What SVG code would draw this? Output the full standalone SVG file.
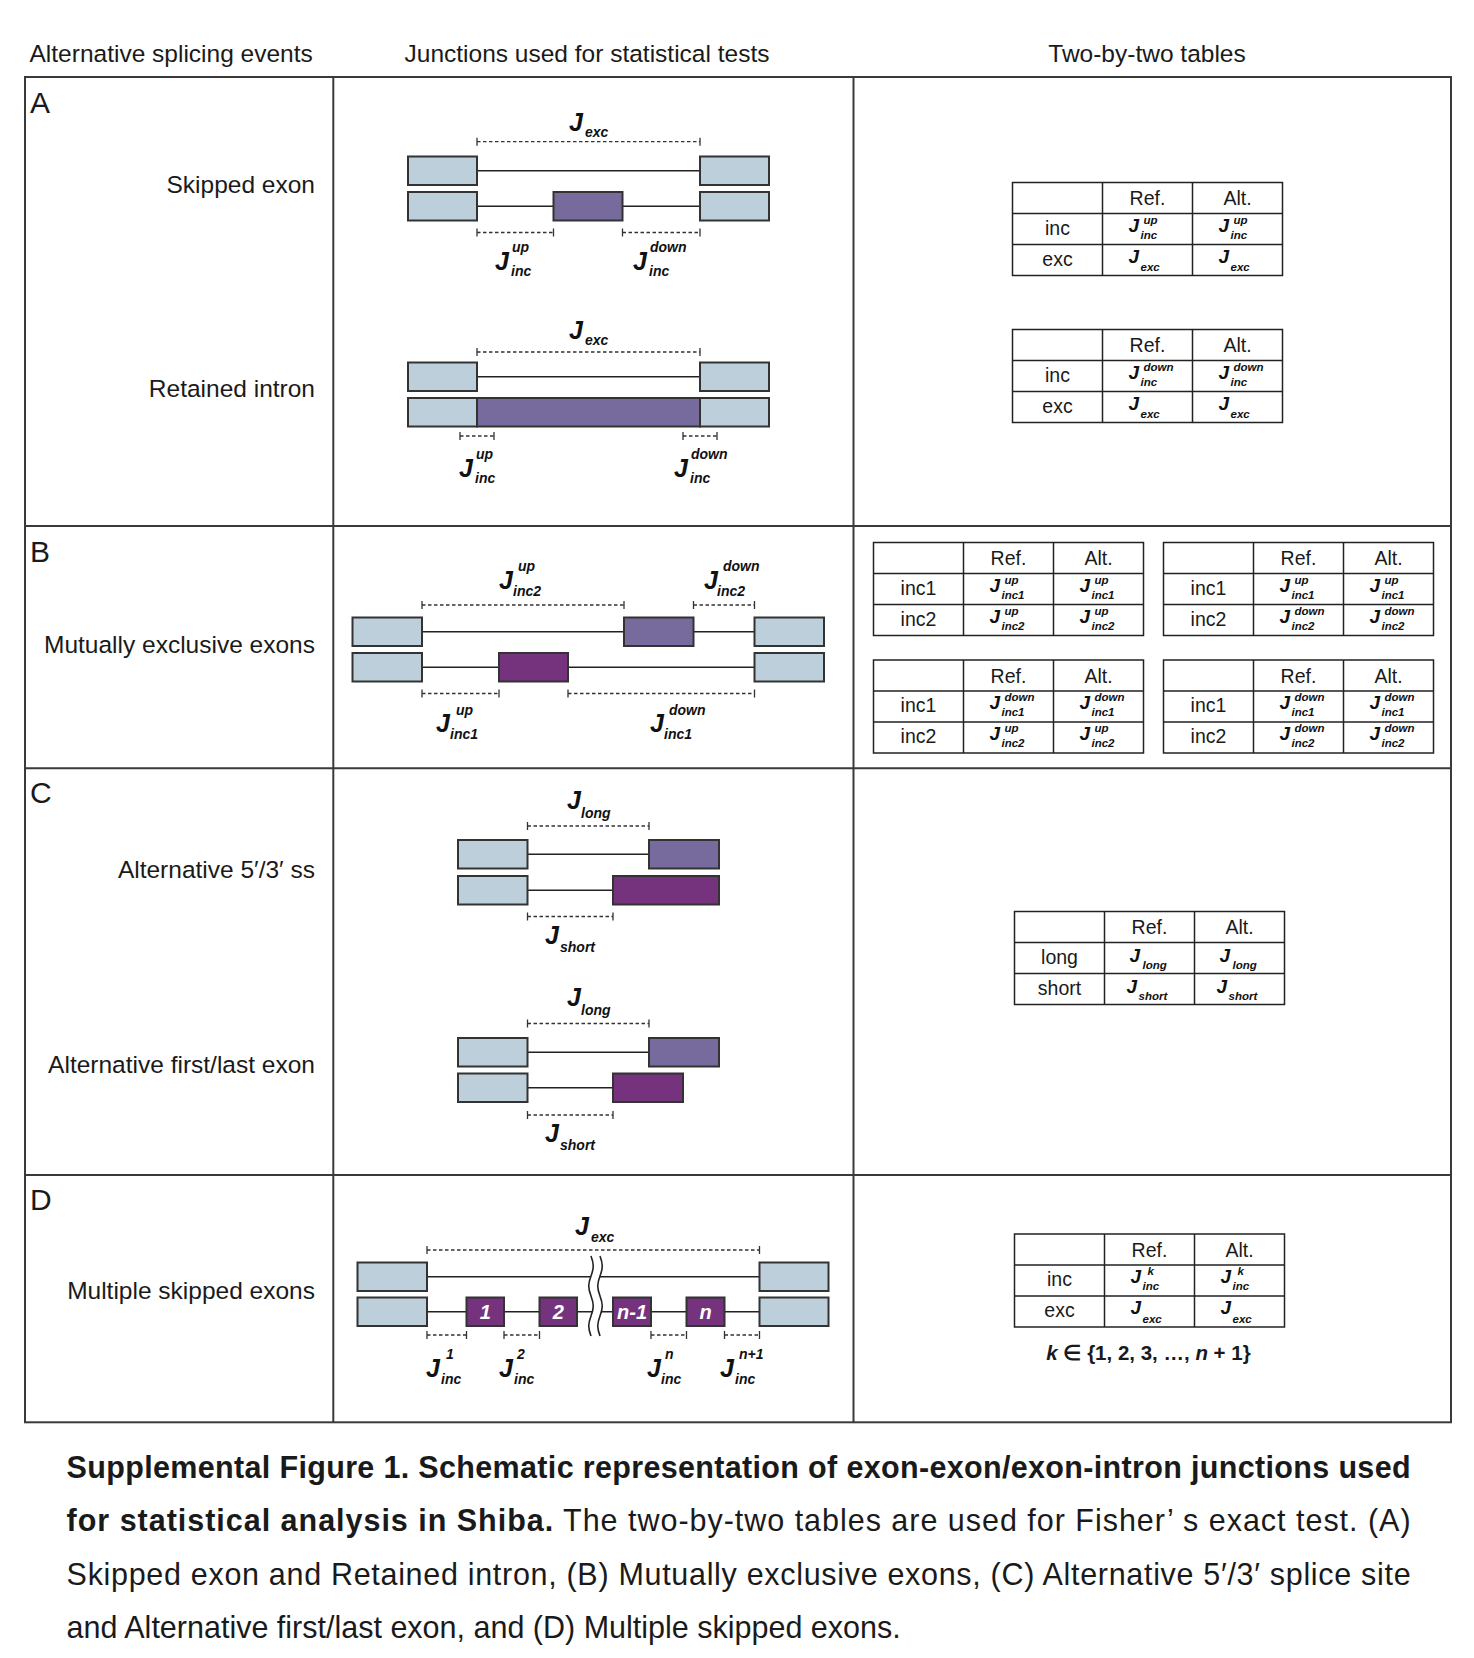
<svg xmlns="http://www.w3.org/2000/svg" width="1474" height="1658" viewBox="0 0 1474 1658">
<style>
text{font-family:"Liberation Sans",Arial,sans-serif;fill:#1a1a1a}
.hdr{font-size:24.5px}
.lbl{font-size:24.5px;text-anchor:end}
.let{font-size:30px}
.frame{fill:none;stroke:#3a3a3a;stroke-width:2}
.ex{fill:#bccfda;stroke:#333;stroke-width:2}
.p1{fill:#776a9c;stroke:#333;stroke-width:2}
.p2{fill:#74337c;stroke:#333;stroke-width:2}
.in{stroke:#222;stroke-width:1.6;fill:none}
.br{stroke:#333;stroke-width:1.3;stroke-dasharray:3.5 2.5;fill:none}
.tk{stroke:#333;stroke-width:1.3;fill:none}
.J{font-weight:bold;font-style:italic;font-size:25px;fill:#111}
.s{font-weight:bold;font-style:italic;font-size:14px;fill:#111}
.tJ{font-weight:bold;font-style:italic;font-size:19px;fill:#111}
.ts{font-weight:bold;font-style:italic;font-size:11.5px;fill:#111}
.tt{font-size:19.5px;text-anchor:middle}
.tb{fill:#fff;stroke:#222;stroke-width:1.5}
.tl{stroke:#222;stroke-width:1.5}
.num{font-weight:bold;font-style:italic;font-size:20px;fill:#fff;text-anchor:middle}
.cap{font-size:30.5px}
.capb{font-size:30.5px;font-weight:bold}
</style>
<rect width="1474" height="1658" fill="#fff"/>

<g id="headers">
<text class="hdr" x="29.5" y="62">Alternative splicing events</text>
<text class="hdr" x="587" y="62" text-anchor="middle">Junctions used for statistical tests</text>
<text class="hdr" x="1147" y="62" text-anchor="middle">Two-by-two tables</text>
</g>

<g id="grid">
<rect class="frame" x="25" y="77" width="1426" height="1345.3"/>
<path class="frame" d="M333.3 77V1422.3M853.5 77V1422.3M25 526H1451M25 768.3H1451M25 1175H1451"/>
</g>

<g id="row-labels">
<text class="let" x="30" y="112.5">A</text>
<text class="let" x="30" y="561.5">B</text>
<text class="let" x="30" y="802.5">C</text>
<text class="let" x="30" y="1209.5">D</text>
<text class="lbl" x="315" y="193">Skipped exon</text>
<text class="lbl" x="315" y="397">Retained intron</text>
<text class="lbl" x="315" y="653">Mutually exclusive exons</text>
<text class="lbl" x="315" y="878">Alternative 5′/3′ ss</text>
<text class="lbl" x="315" y="1072.5">Alternative first/last exon</text>
<text class="lbl" x="315" y="1299">Multiple skipped exons</text>
</g>

<g id="connectors">
<path class="in" d="M477 170.75H700M477 206.25H553.5M622.5 206.25H700"/>
<path class="in" d="M477 376.75H700"/>
<path class="in" d="M422 631.75H624M693.5 631.75H754.5M422 667.25H499M568 667.25H754.5"/>
<path class="in" d="M527.5 854.25H649M527.5 890.25H613"/>
<path class="in" d="M527.5 1052.25H649M527.5 1087.75H613"/>
<path class="in" d="M427 1276.75H759.5M427 1311.75H759.5"/>
<path class="br" d="M477 141.7H700M477 232.5H553.5M622.5 232.5H700"/>
<path class="tk" d="M477 137.7v8M700 137.7v8M477 228.5v8M553.5 228.5v8M622.5 228.5v8M700 228.5v8"/>
<path class="br" d="M477 352H700M460 436H494M683 436H717"/>
<path class="tk" d="M477 348v8M700 348v8M460 432v8M494 432v8M683 432v8M717 432v8"/>
<path class="br" d="M422 605H624M693.5 605H754.5M422 693.5H499M568 693.5H754.5"/>
<path class="tk" d="M422 601v8M624 601v8M693.5 601v8M754.5 601v8M422 689.5v8M499 689.5v8M568 689.5v8M754.5 689.5v8"/>
<path class="br" d="M527.5 826H649M527.5 916.5H613"/>
<path class="tk" d="M527.5 822v8M649 822v8M527.5 912.5v8M613 912.5v8"/>
<path class="br" d="M527.5 1023.5H649M527.5 1115H613"/>
<path class="tk" d="M527.5 1019.5v8M649 1019.5v8M527.5 1111v8M613 1111v8"/>
<path class="br" d="M427 1250H759.5M427 1335H466.5M504 1335H539.5M651 1335H686.5M724.5 1335H759.5"/>
<path class="tk" d="M427 1246v8M759.5 1246v8M427 1331v8M466.5 1331v8M504 1331v8M539.5 1331v8M651 1331v8M686.5 1331v8M724.5 1331v8M759.5 1331v8"/>
</g>

<g id="skipped-exon">
<rect class="ex" x="408" y="156.5" width="69" height="28.5"/>
<rect class="ex" x="700" y="156.5" width="69" height="28.5"/>
<rect class="ex" x="408" y="192" width="69" height="28.5"/>
<rect class="p1" x="553.5" y="192" width="69" height="28.5"/>
<rect class="ex" x="700" y="192" width="69" height="28.5"/>
<text class="J" x="569" y="131">J</text><text class="s" x="585" y="137">exc</text>
<text class="J" x="495" y="270">J</text><text class="s" x="512" y="252">up</text><text class="s" x="511" y="276">inc</text>
<text class="J" x="633" y="270">J</text><text class="s" x="650" y="252">down</text><text class="s" x="649" y="276">inc</text>
</g>

<g id="retained-intron">
<rect class="ex" x="408" y="362.5" width="69" height="28.5"/>
<rect class="ex" x="700" y="362.5" width="69" height="28.5"/>
<rect class="ex" x="408" y="398" width="69" height="28.5"/>
<rect class="p1" x="477" y="398" width="223" height="28.5"/>
<rect class="ex" x="700" y="398" width="69" height="28.5"/>
<text class="J" x="569" y="339">J</text><text class="s" x="585" y="345">exc</text>
<text class="J" x="459" y="476.5">J</text><text class="s" x="476" y="458.5">up</text><text class="s" x="475" y="482.5">inc</text>
<text class="J" x="674" y="476.5">J</text><text class="s" x="691" y="458.5">down</text><text class="s" x="690" y="482.5">inc</text>
</g>

<g id="mutually-exclusive">
<rect class="ex" x="352.5" y="617.5" width="69.5" height="28.5"/>
<rect class="p1" x="624" y="617.5" width="69.5" height="28.5"/>
<rect class="ex" x="754.5" y="617.5" width="69.5" height="28.5"/>
<rect class="ex" x="352.5" y="653" width="69.5" height="28.5"/>
<rect class="p2" x="499" y="653" width="69" height="28.5"/>
<rect class="ex" x="754.5" y="653" width="69.5" height="28.5"/>
<text class="J" x="499" y="589">J</text><text class="s" x="518" y="571">up</text><text class="s" x="513" y="596">inc2</text>
<text class="J" x="704" y="589">J</text><text class="s" x="723" y="571">down</text><text class="s" x="717" y="596">inc2</text>
<text class="J" x="436" y="732">J</text><text class="s" x="456" y="715">up</text><text class="s" x="450" y="739">inc1</text>
<text class="J" x="650" y="732">J</text><text class="s" x="669" y="715">down</text><text class="s" x="664" y="739">inc1</text>
</g>

<g id="alt-ss">
<rect class="ex" x="458" y="840" width="69.5" height="28.5"/>
<rect class="p1" x="649" y="840" width="70" height="28.5"/>
<rect class="ex" x="458" y="876" width="69.5" height="28.5"/>
<rect class="p2" x="613" y="876" width="106" height="28.5"/>
<text class="J" x="567" y="809">J</text><text class="s" x="581" y="818">long</text>
<text class="J" x="545" y="944">J</text><text class="s" x="560" y="952">short</text>
</g>

<g id="alt-first-last">
<rect class="ex" x="458" y="1038" width="69.5" height="28.5"/>
<rect class="p1" x="649" y="1038" width="70" height="28.5"/>
<rect class="ex" x="458" y="1073.5" width="69.5" height="28.5"/>
<rect class="p2" x="613" y="1073.5" width="70" height="28.5"/>
<text class="J" x="567" y="1006">J</text><text class="s" x="581" y="1015">long</text>
<text class="J" x="545" y="1142">J</text><text class="s" x="560" y="1150">short</text>
</g>

<g id="multiple-skipped">
<rect class="ex" x="357.5" y="1262.5" width="69.5" height="28.5"/>
<rect class="ex" x="759.5" y="1262.5" width="69" height="28.5"/>
<rect class="ex" x="357.5" y="1297.5" width="69.5" height="28.5"/>
<rect class="p2" x="466.5" y="1297.5" width="37.5" height="28.5"/>
<rect class="p2" x="539.5" y="1297.5" width="37.5" height="28.5"/>
<rect class="p2" x="613" y="1297.5" width="38" height="28.5"/>
<rect class="p2" x="686.5" y="1297.5" width="38" height="28.5"/>
<rect class="ex" x="759.5" y="1297.5" width="69" height="28.5"/>
<text class="num" x="485.25" y="1319">1</text>
<text class="num" x="558.25" y="1319">2</text>
<text class="num" x="632" y="1319">n-1</text>
<text class="num" x="705.5" y="1319">n</text>
<path fill="#fff" d="M591 1256C594 1264 594 1268 591 1276C588 1284 588 1288 591 1296C594 1304 594 1308 591 1316C588 1324 588 1328 591 1336L600 1336C597 1328 597 1324 600 1316C603 1308 603 1304 600 1296C597 1288 597 1284 600 1276C603 1268 603 1264 600 1256Z"/>
<path class="in" d="M591 1256C594 1264 594 1268 591 1276C588 1284 588 1288 591 1296C594 1304 594 1308 591 1316C588 1324 588 1328 591 1336M600 1256C603 1264 603 1268 600 1276C597 1284 597 1288 600 1296C603 1304 603 1308 600 1316C597 1324 597 1328 600 1336"/>
<text class="J" x="575" y="1235">J</text><text class="s" x="591" y="1242">exc</text>
<text class="J" x="426" y="1377">J</text><text class="s" x="446" y="1359">1</text><text class="s" x="441" y="1384">inc</text>
<text class="J" x="499" y="1377">J</text><text class="s" x="517" y="1359">2</text><text class="s" x="514" y="1384">inc</text>
<text class="J" x="647" y="1377">J</text><text class="s" x="665" y="1359">n</text><text class="s" x="661" y="1384">inc</text>
<text class="J" x="720" y="1377">J</text><text class="s" x="739" y="1359">n+1</text><text class="s" x="735" y="1384">inc</text>
</g>

<g id="table-A1" transform="translate(1012.5 182.5)">
<rect class="tb" width="270" height="93"/>
<path class="tl" d="M90 0V93M180 0V93M0 31H270M0 62H270"/>
<text class="tt" x="135" y="22.5">Ref.</text><text class="tt" x="225" y="22.5">Alt.</text>
<text class="tt" x="45" y="52">inc</text><text class="tt" x="45" y="83">exc</text>
<text class="tJ" x="116" y="49">J</text><text class="ts" x="131" y="41">up</text><text class="ts" x="128" y="56">inc</text>
<text class="tJ" x="206" y="49">J</text><text class="ts" x="221" y="41">up</text><text class="ts" x="218" y="56">inc</text>
<text class="tJ" x="116" y="80">J</text><text class="ts" x="128" y="88.5">exc</text>
<text class="tJ" x="206" y="80">J</text><text class="ts" x="218" y="88.5">exc</text>
</g>

<g id="table-A2" transform="translate(1012.5 329.5)">
<rect class="tb" width="270" height="93"/>
<path class="tl" d="M90 0V93M180 0V93M0 31H270M0 62H270"/>
<text class="tt" x="135" y="22.5">Ref.</text><text class="tt" x="225" y="22.5">Alt.</text>
<text class="tt" x="45" y="52">inc</text><text class="tt" x="45" y="83">exc</text>
<text class="tJ" x="116" y="49">J</text><text class="ts" x="131" y="41">down</text><text class="ts" x="128" y="56">inc</text>
<text class="tJ" x="206" y="49">J</text><text class="ts" x="221" y="41">down</text><text class="ts" x="218" y="56">inc</text>
<text class="tJ" x="116" y="80">J</text><text class="ts" x="128" y="88.5">exc</text>
<text class="tJ" x="206" y="80">J</text><text class="ts" x="218" y="88.5">exc</text>
</g>

<g id="table-B1" transform="translate(873.5 542.5)">
<rect class="tb" width="270" height="93"/>
<path class="tl" d="M90 0V93M180 0V93M0 31H270M0 62H270"/>
<text class="tt" x="135" y="22.5">Ref.</text><text class="tt" x="225" y="22.5">Alt.</text>
<text class="tt" x="45" y="52">inc1</text><text class="tt" x="45" y="83">inc2</text>
<text class="tJ" x="116" y="49">J</text><text class="ts" x="131" y="41">up</text><text class="ts" x="128" y="56">inc1</text>
<text class="tJ" x="206" y="49">J</text><text class="ts" x="221" y="41">up</text><text class="ts" x="218" y="56">inc1</text>
<text class="tJ" x="116" y="80">J</text><text class="ts" x="131" y="72">up</text><text class="ts" x="128" y="87">inc2</text>
<text class="tJ" x="206" y="80">J</text><text class="ts" x="221" y="72">up</text><text class="ts" x="218" y="87">inc2</text>
</g>

<g id="table-B2" transform="translate(1163.5 542.5)">
<rect class="tb" width="270" height="93"/>
<path class="tl" d="M90 0V93M180 0V93M0 31H270M0 62H270"/>
<text class="tt" x="135" y="22.5">Ref.</text><text class="tt" x="225" y="22.5">Alt.</text>
<text class="tt" x="45" y="52">inc1</text><text class="tt" x="45" y="83">inc2</text>
<text class="tJ" x="116" y="49">J</text><text class="ts" x="131" y="41">up</text><text class="ts" x="128" y="56">inc1</text>
<text class="tJ" x="206" y="49">J</text><text class="ts" x="221" y="41">up</text><text class="ts" x="218" y="56">inc1</text>
<text class="tJ" x="116" y="80">J</text><text class="ts" x="131" y="72">down</text><text class="ts" x="128" y="87">inc2</text>
<text class="tJ" x="206" y="80">J</text><text class="ts" x="221" y="72">down</text><text class="ts" x="218" y="87">inc2</text>
</g>

<g id="table-B3" transform="translate(873.5 660)">
<rect class="tb" width="270" height="93"/>
<path class="tl" d="M90 0V93M180 0V93M0 31H270M0 62H270"/>
<text class="tt" x="135" y="22.5">Ref.</text><text class="tt" x="225" y="22.5">Alt.</text>
<text class="tt" x="45" y="52">inc1</text><text class="tt" x="45" y="83">inc2</text>
<text class="tJ" x="116" y="49">J</text><text class="ts" x="131" y="41">down</text><text class="ts" x="128" y="56">inc1</text>
<text class="tJ" x="206" y="49">J</text><text class="ts" x="221" y="41">down</text><text class="ts" x="218" y="56">inc1</text>
<text class="tJ" x="116" y="80">J</text><text class="ts" x="131" y="72">up</text><text class="ts" x="128" y="87">inc2</text>
<text class="tJ" x="206" y="80">J</text><text class="ts" x="221" y="72">up</text><text class="ts" x="218" y="87">inc2</text>
</g>

<g id="table-B4" transform="translate(1163.5 660)">
<rect class="tb" width="270" height="93"/>
<path class="tl" d="M90 0V93M180 0V93M0 31H270M0 62H270"/>
<text class="tt" x="135" y="22.5">Ref.</text><text class="tt" x="225" y="22.5">Alt.</text>
<text class="tt" x="45" y="52">inc1</text><text class="tt" x="45" y="83">inc2</text>
<text class="tJ" x="116" y="49">J</text><text class="ts" x="131" y="41">down</text><text class="ts" x="128" y="56">inc1</text>
<text class="tJ" x="206" y="49">J</text><text class="ts" x="221" y="41">down</text><text class="ts" x="218" y="56">inc1</text>
<text class="tJ" x="116" y="80">J</text><text class="ts" x="131" y="72">down</text><text class="ts" x="128" y="87">inc2</text>
<text class="tJ" x="206" y="80">J</text><text class="ts" x="221" y="72">down</text><text class="ts" x="218" y="87">inc2</text>
</g>

<g id="table-C" transform="translate(1014.5 911.5)">
<rect class="tb" width="270" height="93"/>
<path class="tl" d="M90 0V93M180 0V93M0 31H270M0 62H270"/>
<text class="tt" x="135" y="22.5">Ref.</text><text class="tt" x="225" y="22.5">Alt.</text>
<text class="tt" x="45" y="52">long</text><text class="tt" x="45" y="83">short</text>
<text class="tJ" x="115" y="50">J</text><text class="ts" x="128" y="57.5">long</text>
<text class="tJ" x="205" y="50">J</text><text class="ts" x="218" y="57.5">long</text>
<text class="tJ" x="112" y="81">J</text><text class="ts" x="124" y="88.5">short</text>
<text class="tJ" x="202" y="81">J</text><text class="ts" x="214" y="88.5">short</text>
</g>

<g id="table-D" transform="translate(1014.5 1234)">
<rect class="tb" width="270" height="93"/>
<path class="tl" d="M90 0V93M180 0V93M0 31H270M0 62H270"/>
<text class="tt" x="135" y="22.5">Ref.</text><text class="tt" x="225" y="22.5">Alt.</text>
<text class="tt" x="45" y="52">inc</text><text class="tt" x="45" y="83">exc</text>
<text class="tJ" x="116" y="49">J</text><text class="ts" x="133" y="41">k</text><text class="ts" x="128" y="56">inc</text>
<text class="tJ" x="206" y="49">J</text><text class="ts" x="223" y="41">k</text><text class="ts" x="218" y="56">inc</text>
<text class="tJ" x="116" y="80">J</text><text class="ts" x="128" y="88.5">exc</text>
<text class="tJ" x="206" y="80">J</text><text class="ts" x="218" y="88.5">exc</text>
</g>
<g id="k-range">
<text x="1148.5" y="1360" text-anchor="middle" font-size="20.5" font-weight="bold"><tspan font-style="italic">k</tspan> ∈ {1, 2, 3, …, <tspan font-style="italic">n</tspan> + 1}</text>
</g>

<g id="caption">
<text class="capb" x="66.6" y="1478" textLength="1344" lengthAdjust="spacing">Supplemental Figure 1. Schematic representation of exon-exon/exon-intron junctions used</text>
<text class="cap" x="66.6" y="1531" textLength="1344" lengthAdjust="spacing"><tspan font-weight="bold">for statistical analysis in Shiba.</tspan> The two-by-two tables are used for Fisher’ s exact test. (A)</text>
<text class="cap" x="66.6" y="1584.5" textLength="1344" lengthAdjust="spacing">Skipped exon and Retained intron, (B) Mutually exclusive exons, (C) Alternative 5′/3′ splice site</text>
<text class="cap" x="66.6" y="1637.5">and Alternative first/last exon, and (D) Multiple skipped exons.</text>
</g>
</svg>
